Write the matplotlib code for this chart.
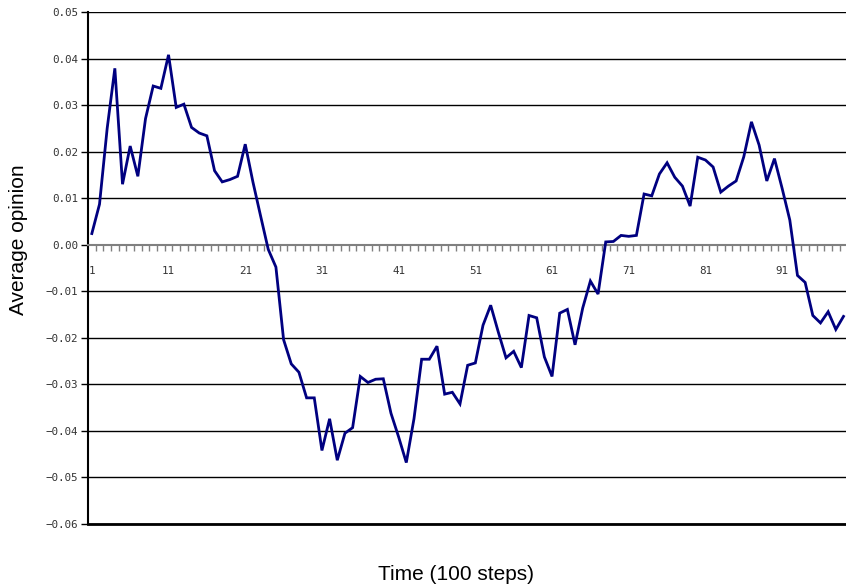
import matplotlib
matplotlib.use("Agg")
import matplotlib.pyplot as plt
import numpy as np

opinion = [
    0.0024, 0.0087, 0.0250, 0.0379, 0.0130, 0.0212, 0.0147, 0.0271, 0.0341, 0.0336,
    0.0408, 0.0295, 0.0302, 0.0252, 0.0240, 0.0234, 0.0159, 0.0135, 0.0140, 0.0147,
    0.0216, 0.0135, 0.0062, -0.0010, -0.0048, -0.0204, -0.0256, -0.0274, -0.0329, -0.0329,
    -0.0442, -0.0374, -0.0463, -0.0405, -0.0393, -0.0283, -0.0296, -0.0289, -0.0288, -0.0362,
    -0.0413, -0.0468, -0.0374, -0.0246, -0.0246, -0.0218, -0.0321, -0.0317, -0.0342, -0.0259,
    -0.0254, -0.0173, -0.0130, -0.0188, -0.0243, -0.0229, -0.0264, -0.0152, -0.0157, -0.0241,
    -0.0283, -0.0147, -0.0139, -0.0215, -0.0136, -0.0078, -0.0106, 0.0006, 0.0007, 0.0020,
    0.0018, 0.0020, 0.0109, 0.0105, 0.0152, 0.0176, 0.0145, 0.0126, 0.0083, 0.0188,
    0.0182, 0.0167, 0.0113, 0.0126, 0.0137, 0.0189, 0.0264, 0.0214, 0.0137, 0.0185,
    0.0121, 0.0053, -0.0066, -0.0081, -0.0152, -0.0168, -0.0144, -0.0182, -0.0154,
]
steps = list(range(1, len(opinion) + 1))
x_tick_labels = [1, 11, 21, 31, 41, 51, 61, 71, 81, 91]
y_ticks = [0.05, 0.04, 0.03, 0.02, 0.01, 0.00, -0.01, -0.02, -0.03, -0.04, -0.05, -0.06]

W, H = 846, 588
fig = plt.figure(figsize=(W / 100, H / 100), dpi=100)
left, right, top, bottom = 88, 855, 12, 524
ax = fig.add_axes([left / W, (H - bottom) / H, (right - left) / W, (bottom - top) / H])

ax.set_xlim(0.5, 100.5)
ax.set_ylim(-0.06, 0.05)

# gridlines
for yv in y_ticks:
    if abs(yv) > 1e-9:
        ax.axhline(yv, color="black", lw=1.0, zorder=1)

ax.plot(steps, opinion, color="#000080", lw=2.0, zorder=3, solid_joinstyle="miter")

# spines
for s in ["top", "right"]:
    ax.spines[s].set_visible(False)
ax.spines["left"].set_color("black")
ax.spines["left"].set_linewidth(1.5)
ax.spines["bottom"].set_position(("data", 0.0))
ax.spines["bottom"].set_color("#808080")
ax.spines["bottom"].set_linewidth(1.5)
ax.axhline(-0.06, color="black", lw=2.0, zorder=2, clip_on=False)

tick_font = dict(family="DejaVu Sans Mono", fontsize=7.8, color="#333333")

# y ticks
ax.set_yticks(y_ticks)
ax.set_yticklabels([f"{v:.2f}".replace("-", "\u2212") if v < 0 else f"{v:.2f}" for v in y_ticks],
                   **tick_font)
ax.tick_params(axis="y", direction="out", length=5, width=1, color="black", pad=2)

# x ticks: labels at category centres, tick marks at boundaries
ax.set_xticks(x_tick_labels)
ax.set_xticklabels([str(v) for v in x_tick_labels], **tick_font)
ax.set_xticks(np.arange(1.5, 100.5, 1.0), minor=True)
ax.tick_params(axis="x", which="major", length=0, pad=15)
ax.tick_params(axis="x", which="minor", direction="out", length=4, width=1, color="#808080")

fig.text(18 / W, 1 - 240 / H, "Average opinion", rotation=90, ha="center", va="center",
         family="Liberation Sans", fontsize=15)
fig.text(456 / W, 1 - 575 / H, "Time (100 steps)", ha="center", va="center",
         family="Liberation Sans", fontsize=15)

fig.savefig("out.png", dpi=100)
